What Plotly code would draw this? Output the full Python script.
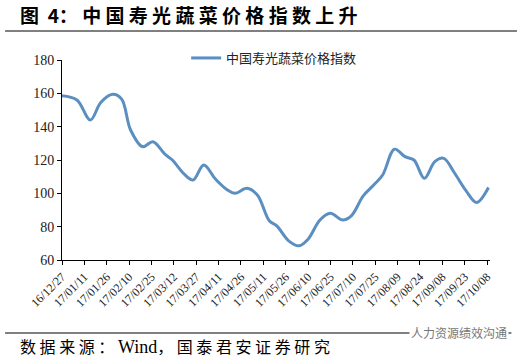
import plotly.graph_objects as go

dates = ["2016-12-27", "2017-01-06", "2017-01-15", "2017-01-22", "2017-01-30",
         "2017-02-05", "2017-02-11", "2017-02-19", "2017-02-26", "2017-03-06",
         "2017-03-11", "2017-03-19", "2017-03-25", "2017-04-01", "2017-04-09",
         "2017-04-17", "2017-04-22", "2017-04-30", "2017-05-07", "2017-05-15",
         "2017-05-20", "2017-05-28", "2017-06-04", "2017-06-10", "2017-06-18",
         "2017-06-25", "2017-07-03", "2017-07-09", "2017-07-17", "2017-07-24",
         "2017-07-30", "2017-08-07", "2017-08-14", "2017-08-20", "2017-08-27",
         "2017-09-03", "2017-09-09", "2017-09-16", "2017-09-24", "2017-10-01",
         "2017-10-09"]
values = [158.5, 156, 144, 154.5, 159.4,
          156.5, 138, 128, 131, 123.5,
          120, 111.5, 108, 117, 108.5,
          102, 100, 103, 99, 83.5,
          80.5, 71.5, 68.5, 72.5, 84,
          88, 84, 86.5, 98.5, 105,
          111, 126.5, 122, 120, 109,
          119, 121, 112.5, 101.5, 94.5,
          103.5]
tick_dates = ["2016-12-27", "2017-01-11", "2017-01-26", "2017-02-10", "2017-02-25",
              "2017-03-12", "2017-03-27", "2017-04-11", "2017-04-26", "2017-05-11",
              "2017-05-26", "2017-06-10", "2017-06-25", "2017-07-10", "2017-07-25",
              "2017-08-09", "2017-08-24", "2017-09-08", "2017-09-23", "2017-10-08"]
tick_labels = ["16/12/27", "17/01/11", "17/01/26", "17/02/10", "17/02/25",
               "17/03/12", "17/03/27", "17/04/11", "17/04/26", "17/05/11",
               "17/05/26", "17/06/10", "17/06/25", "17/07/10", "17/07/25",
               "17/08/09", "17/08/24", "17/09/08", "17/09/23", "17/10/08"]
series_name = "中国寿光蔬菜价格指数"
y_ticks = [60, 80, 100, 120, 140, 160, 180]
title_prefix = ["图", "4："]
title_main = "中国寿光蔬菜价格指数上升"
source_parts = ["数据来源：", "Wind，", "国泰君安证券研究"]
watermark_text = "人力资源绩效沟通"

serif = "Liberation Serif, Times New Roman, serif"
cjk = "Noto Sans CJK SC"
SP = "\u00a0"


def spaced(s):
    return SP.join(s)


fig = go.Figure()
fig.add_trace(go.Scatter(
    x=dates, y=values, mode="lines", name=series_name,
    line=dict(color="#5B8FC2", width=3, shape="spline", smoothing=1.0),
))

fig.update_layout(
    width=528, height=360,
    margin=dict(l=62, r=38, t=60, b=100, autoexpand=False),
    paper_bgcolor="white", plot_bgcolor="white",
    showlegend=True,
    legend=dict(x=0.29, y=1.01, xanchor="left", yanchor="middle",
                font=dict(family=cjk, size=13, color="#222"),
                bgcolor="rgba(0,0,0,0)", itemwidth=30),
    xaxis=dict(
        type="date", range=["2016-12-27", "2017-10-10"],
        tickvals=tick_dates, ticktext=tick_labels, tickangle=-45,
        showgrid=False, zeroline=False,
        showline=True, linecolor="black", linewidth=1,
        ticks="outside", ticklen=4, tickcolor="black",
        tickfont=dict(family=serif, size=12, color="#222"),
    ),
    yaxis=dict(
        range=[60, 180], tickvals=y_ticks,
        showgrid=False, zeroline=False,
        showline=True, linecolor="black", linewidth=1,
        ticks="outside", ticklen=4, tickcolor="black",
        tickfont=dict(family=serif, size=14, color="#222"),
    ),
)

title_html = ("<b>" + title_prefix[0] + SP * 2 + title_prefix[1] + SP
              + spaced(title_main) + "</b>")
fig.add_annotation(
    text=title_html, xref="paper", yref="paper",
    x=-0.103, y=1.225, xanchor="left", yanchor="middle", showarrow=False,
    font=dict(family=cjk, size=19, color="black"),
)
fig.add_shape(type="line", xref="paper", yref="paper",
              x0=-0.133, x1=1.063, y0=1.145, y1=1.145,
              line=dict(color="black", width=1))
fig.add_shape(type="line", xref="paper", yref="paper",
              x0=-0.133, x1=1.05, y0=-0.365, y1=-0.365,
              line=dict(color="black", width=1))
source_html = (spaced(source_parts[0]) + SP
               + f"<span style='font-family:{serif};font-size:18px'>{source_parts[1][:-1]}</span>"
               + source_parts[1][-1] + SP + spaced(source_parts[2]))
fig.add_annotation(
    text=source_html, xref="paper", yref="paper",
    x=-0.103, y=-0.43, xanchor="left", yanchor="middle", showarrow=False,
    font=dict(family=cjk, size=16, color="black"),
)
fig.add_annotation(
    text=watermark_text, xref="paper", yref="paper",
    x=1.045, y=-0.36, xanchor="right", yanchor="middle", showarrow=False,
    font=dict(family=cjk, size=12, color="#777"), bgcolor="white",
)

fig.write_html("out.html",
               config={"displayModeBar": False},
               post_script="document.body.style.margin='0';"
                           "document.body.style.padding='0';"
                           "document.documentElement.style.overflow='hidden';")
